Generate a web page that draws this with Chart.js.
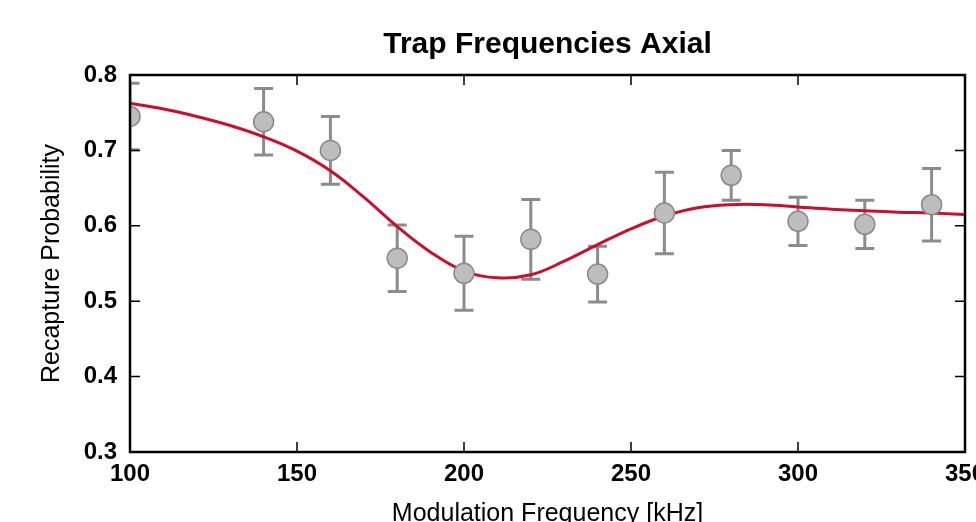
<!DOCTYPE html>
<html>
<head>
<meta charset="utf-8">
<title>Trap Frequencies Axial</title>
<script src="https://cdn.jsdelivr.net/npm/chart.js@4"></script>
<style>
  html, body { margin: 0; padding: 0; overflow: hidden; background: #fff; }
  canvas { display: block; }
</style>
</head>
<body>
<canvas id="chart-axial" width="1000" height="540"></canvas>
<script>
// measured recapture probability vs modulation frequency
const freq = [100, 140, 160, 180, 200, 220, 240, 260, 280, 300, 320, 340];
const recap = [0.745, 0.738, 0.700, 0.557, 0.537, 0.582, 0.536, 0.617, 0.667, 0.606, 0.602, 0.628];
const recapErr = [0.044, 0.044, 0.045, 0.044, 0.049, 0.053, 0.037, 0.054, 0.033, 0.032, 0.032, 0.048];

// fitted curve
const fitFreq = [100, 110, 120, 130, 140, 150, 160, 170, 180, 190, 200, 210, 220,
                 230, 240, 250, 260, 270, 280, 290, 300, 310, 320, 330, 340, 350];
const fitRecap = [0.7625, 0.755, 0.745, 0.733, 0.718, 0.699, 0.673, 0.638, 0.599, 0.565, 0.540, 0.531, 0.535,
                  0.553, 0.575, 0.596, 0.613, 0.624, 0.628, 0.628, 0.625, 0.622, 0.620, 0.618, 0.617, 0.615];

const xTicks = [100, 150, 200, 250, 300, 350];
const yTicks = [0.3, 0.4, 0.5, 0.6, 0.7, 0.8];

Chart.defaults.font.family = '"Liberation Sans", Arial, Helvetica, sans-serif';
Chart.defaults.color = '#000';

// vertical error bars with caps, under the markers
const errorBars = {
    id: 'errorBars',
    beforeDatasetsDraw(chart) {
        const {ctx, chartArea: a, scales: {x, y}} = chart;
        ctx.save();
        ctx.beginPath();
        ctx.rect(a.left, a.top, a.right - a.left, a.bottom - a.top);
        ctx.clip();
        ctx.strokeStyle = '#8c8c8c';
        ctx.lineWidth = 3;
        freq.forEach((f, i) => {
            const px = x.getPixelForValue(f);
            const yt = y.getPixelForValue(recap[i] + recapErr[i]);
            const yb = y.getPixelForValue(recap[i] - recapErr[i]);
            ctx.beginPath();
            ctx.moveTo(px, yt); ctx.lineTo(px, yb);
            ctx.moveTo(px - 9.5, yt); ctx.lineTo(px + 9.5, yt);
            ctx.moveTo(px - 9.5, yb); ctx.lineTo(px + 9.5, yb);
            ctx.stroke();
        });
        ctx.restore();
    }
};

// box frame with inward tick marks on all four sides
const frame = {
    id: 'frame',
    afterDraw(chart) {
        const {ctx, chartArea: a, scales: {x, y}} = chart;
        ctx.save();
        ctx.strokeStyle = '#000';
        ctx.lineWidth = 1.5;
        ctx.beginPath();
        xTicks.forEach(v => {
            const p = x.getPixelForValue(v);
            ctx.moveTo(p, a.bottom); ctx.lineTo(p, a.bottom - 10);
            ctx.moveTo(p, a.top); ctx.lineTo(p, a.top + 10);
        });
        yTicks.forEach(v => {
            const p = y.getPixelForValue(v);
            ctx.moveTo(a.left, p); ctx.lineTo(a.left + 10, p);
            ctx.moveTo(a.right, p); ctx.lineTo(a.right - 10, p);
        });
        ctx.stroke();
        ctx.lineWidth = 2.5;
        ctx.strokeRect(a.left, a.top, a.right - a.left, a.bottom - a.top);
        ctx.restore();
    }
};

const ctx = document.getElementById('chart-axial').getContext('2d');
new Chart(ctx, {
    type: 'scatter',
    data: {
        datasets: [{
            label: 'data',
            data: freq.map((f, i) => ({x: f, y: recap[i]})),
            pointRadius: 10,
            pointBackgroundColor: '#bdbdbd',
            pointBorderColor: '#8a8a8a',
            pointBorderWidth: 1.5,
            clip: 0,
            order: 0
        }, {
            label: 'fit',
            data: fitFreq.map((f, i) => ({x: f, y: fitRecap[i]})),
            showLine: true,
            borderColor: '#c8102e',
            borderWidth: 3,
            pointRadius: 0,
            tension: 0.4,
            clip: 0,
            order: 1
        }]
    },
    options: {
        responsive: false,
        animation: false,
        layout: { padding: { left: 0, right: 35, top: 0, bottom: 0 } },
        plugins: {
            legend: { display: false },
            tooltip: { enabled: false },
            title: {
                display: true,
                text: 'Trap Frequencies Axial',
                fullSize: false,
                color: '#000',
                font: { size: 30, weight: 'bold', lineHeight: 1.2 },
                padding: { top: 27, bottom: 12 }
            }
        },
        scales: {
            x: {
                type: 'linear',
                min: 100,
                max: 350,
                afterBuildTicks: s => { s.ticks = xTicks.map(v => ({value: v})); },
                afterFit: s => { s.height = 88; },
                grid: { display: false, drawTicks: false },
                border: { display: false },
                ticks: { font: { size: 24, weight: 'bold' }, padding: 8, maxRotation: 0 },
                title: {
                    display: true,
                    text: 'Modulation Frequency [kHz]',
                    font: { size: 25, lineHeight: 1.2 },
                    padding: { top: 0, bottom: 11 }
                }
            },
            y: {
                min: 0.3,
                max: 0.8,
                afterBuildTicks: s => { s.ticks = yTicks.map(v => ({value: v})); },
                afterFit: s => { s.width = 130; },
                grid: { display: false, drawTicks: false },
                border: { display: false },
                ticks: {
                    font: { size: 24, weight: 'bold' },
                    padding: 13,
                    callback: v => v.toFixed(1)
                },
                title: {
                    display: true,
                    text: 'Recapture Probability',
                    font: { size: 25, lineHeight: 1.2 },
                    padding: { top: 37.5, bottom: 0 }
                }
            }
        }
    },
    plugins: [errorBars, frame]
});
</script>
</body>
</html>
